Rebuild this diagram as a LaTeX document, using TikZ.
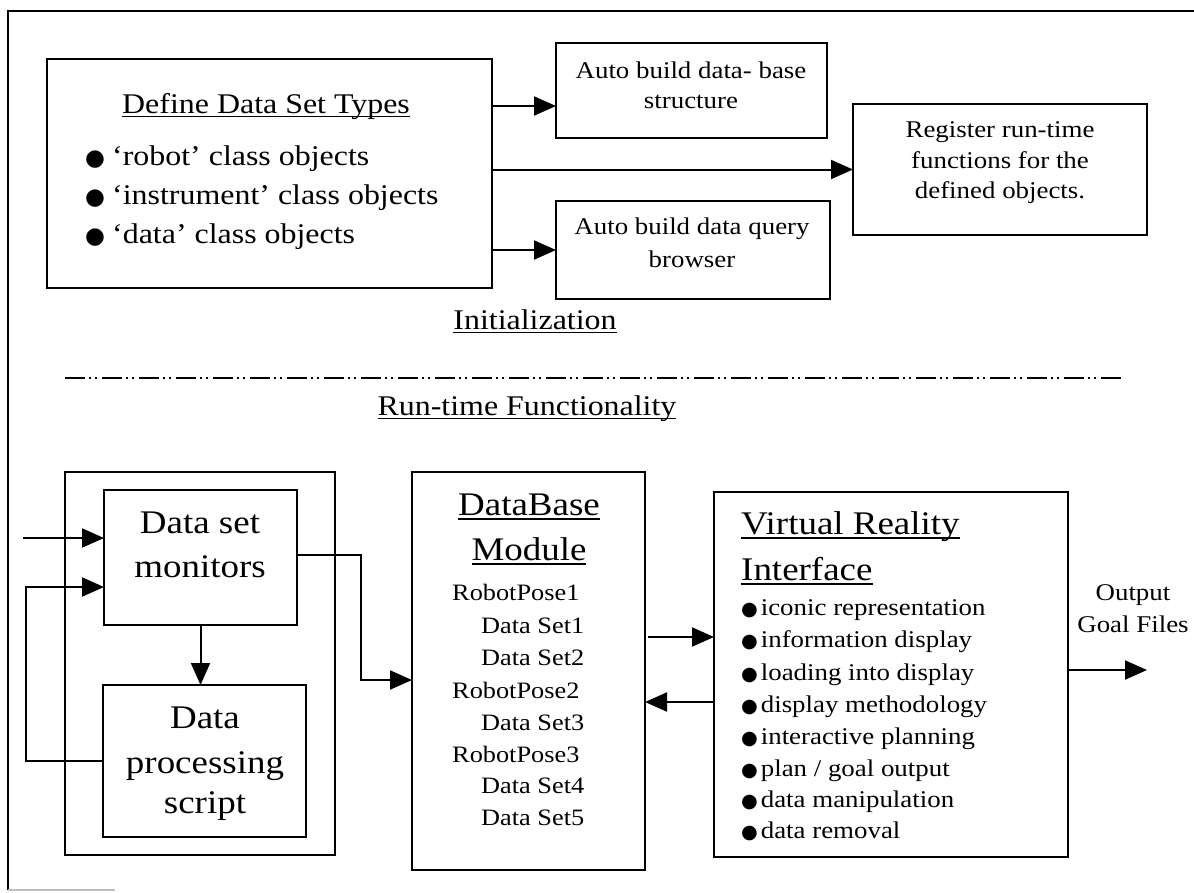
\documentclass[tikz,border=0pt]{standalone}
\usepackage{fontspec}
\setmainfont{Liberation Serif}[FakeStretch=1.12]
\newfontfamily\symf{DejaVu Sans}
\usetikzlibrary{arrows.meta}
\newcommand\ulx[1]{\setbox0\hbox{#1}\rlap{\rule[-0.15em]{\wd0}{0.06em}}\box0}
\newcommand\bul{{\symf\scalebox{0.8}{●}}}
\newcommand\fs[1]{\fontsize{#1}{#1}\selectfont}
\begin{document}
\begin{tikzpicture}[x=1pt,y=-1pt,
  box/.style={draw, line width=2pt, inner sep=0pt, outer sep=0pt, anchor=north west},
  arr/.style={line width=2pt, -{Triangle[length=22pt,width=19pt]}},
  tc/.style={inner sep=0pt, anchor=base},
  tl/.style={inner sep=0pt, anchor=base west},
  hd/.style={font=\fs{28.5}},
  big/.style={font=\fs{33}},
  med/.style={font=\fs{24}},
  sml/.style={font=\fs{23.5}}]
\useasboundingbox (0,0) rectangle (1194,892);
\fill[white] (0,0) rectangle (1194,892);
% outer frame
\draw[line width=1.8pt] (1194,11) -- (8,11) -- (8,890);
\draw[gray!50, line width=1.2pt] (8,890) -- (115,890);

% ---------- Initialization ----------
\node[box, minimum width=445pt, minimum height=229pt] (define) at (47,59) {};
\node[box, minimum width=271pt, minimum height=95pt] (auto1) at (556,43) {};
\node[box, minimum width=294pt, minimum height=131pt] (reg) at (853,104) {};
\node[box, minimum width=274pt, minimum height=98pt] (auto2) at (556,201) {};

\node[tc, hd] (dtitle) at (266,113) {\ulx{Define Data Set Types}};
\node[tl, hd] (b1) at (85,165) {\bul\hspace{0.25em}‘robot’ class objects};
\node[tl, hd] (b2) at (85,204) {\bul\hspace{0.25em}‘instrument’ class objects};
\node[tl, hd] (b3) at (85,243) {\bul\hspace{0.25em}‘data’ class objects};

\node[tc, med] (a1l1) at (691,78) {Auto build data- base};
\node[tc, med] (a1l2) at (691,108) {structure};
\node[tc, med] (r1) at (1000,137) {Register run-time};
\node[tc, med] (r2) at (1000,168) {functions for the};
\node[tc, med] (r3) at (1000,198) {defined objects.};
\node[tc, med] (a2l1) at (692,234) {Auto build data query};
\node[tc, med] (a2l2) at (692,267) {browser};

\coordinate (y1) at (0,106);
\draw[arr] (define.east |- y1) -- (auto1.west |- y1);
\draw[arr] (define.east |- reg.west) -- (reg.west);
\draw[arr] (define.east |- auto2.west) -- (auto2.west);

\node[tc, hd] (init) at (535,329) {\ulx{Initialization}};
\coordinate (dl) at (65,378);
\coordinate (dr) at (1123,378);
\draw[line width=1.8pt, dash pattern=on 20pt off 4pt on 2pt off 4pt on 2pt off 5pt] (dl) -- (dr);
\node[tc, hd] (rtf) at (527,415) {\ulx{Run-time Functionality}};

% ---------- Run-time ----------
\node[box, minimum width=270pt, minimum height=383pt] (cont) at (65,472) {};
\node[box, minimum width=193pt, minimum height=135pt] (mon) at (104,490) {};
\node[box, minimum width=203pt, minimum height=152pt] (proc) at (103,685) {};
\node[box, minimum width=233pt, minimum height=398pt] (db) at (412,472) {};
\node[box, minimum width=354pt, minimum height=365pt] (vr) at (714,492) {};

\node[tc, big] (m1) at (200,533) {Data set};
\node[tc, big] (m2) at (200,577) {monitors};
\node[tc, big] (p1) at (205,728) {Data};
\node[tc, big] (p2) at (205,773) {processing};
\node[tc, big] (p3) at (205,813) {script};

\node[tc, big] (dbt1) at (529,515) {\ulx{DataBase}};
\node[tc, big] (dbt2) at (529,560) {\ulx{Module}};
\node[tl, sml] (d1) at (452,600) {RobotPose1};
\node[tl, sml] (d2) at (481,633) {Data Set1};
\node[tl, sml] (d3) at (481,665) {Data Set2};
\node[tl, sml] (d4) at (452,698) {RobotPose2};
\node[tl, sml] (d5) at (481,730) {Data Set3};
\node[tl, sml] (d6) at (452,762) {RobotPose3};
\node[tl, sml] (d7) at (481,793) {Data Set4};
\node[tl, sml] (d8) at (481,825) {Data Set5};

\node[tl, big] (vt1) at (741,534) {\ulx{Virtual Reality}};
\node[tl, big] (vt2) at (741,580) {\ulx{Interface}};
\node[tl, med] (v1) at (741,615) {\bul\hspace{0.12em}iconic representation};
\node[tl, med] (v2) at (741,647) {\bul\hspace{0.12em}information display};
\node[tl, med] (v3) at (741,680) {\bul\hspace{0.12em}loading into display};
\node[tl, med] (v4) at (741,712) {\bul\hspace{0.12em}display methodology};
\node[tl, med] (v5) at (741,744) {\bul\hspace{0.12em}interactive planning};
\node[tl, med] (v6) at (741,776) {\bul\hspace{0.12em}plan / goal output};
\node[tl, med] (v7) at (741,807) {\bul\hspace{0.12em}data manipulation};
\node[tl, med] (v8) at (741,838) {\bul\hspace{0.12em}data removal};

\node[tc, med] (o1) at (1133,600) {Output};
\node[tc, med] (o2) at (1133,632) {Goal Files};

% connectors
\coordinate (inA) at (23,538);
\draw[arr] (inA) -- (mon.west |- inA);
\coordinate (fb0) at (0,761);
\coordinate (fb1) at (26,761);
\coordinate (fb2) at (26,587);
\draw[arr] (proc.west |- fb0) -- (fb1) -- (fb2) -- (mon.west |- fb2);
\draw[arr] (mon.south) -- (mon.south |- proc.north);
\coordinate (k0) at (0,555);
\coordinate (k1) at (361,680);
\draw[arr] (mon.east |- k0) -| (k1) -- (db.west |- k1);
\coordinate (e1) at (648,637);
\draw[arr] (e1) -- (vr.west |- e1);
\coordinate (e2) at (0,702);
\draw[arr] (vr.west |- e2) -- (db.east |- e2);
\coordinate (outE) at (1147,670);
\draw[arr] (vr.east |- outE) -- (outE);
\end{tikzpicture}
\end{document}
